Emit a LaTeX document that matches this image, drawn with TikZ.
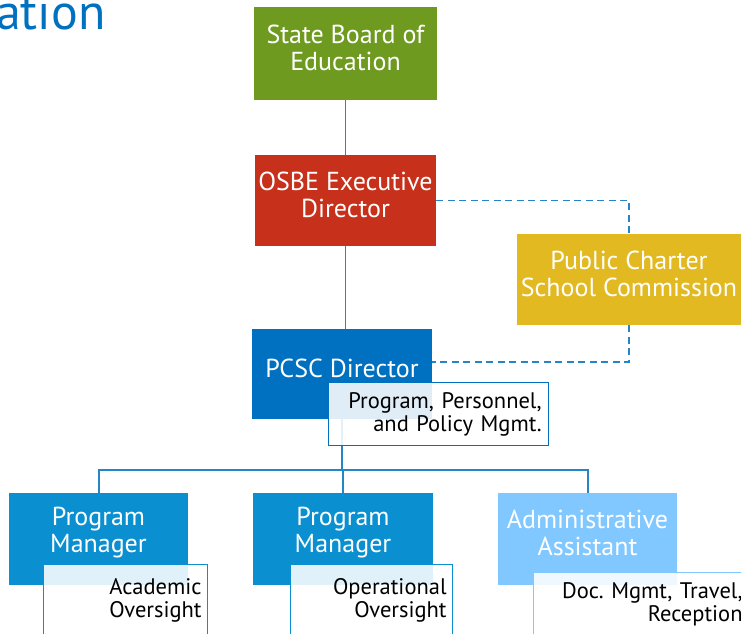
\documentclass[tikz,border=0pt]{standalone}
\usepackage{fontspec}
\setmainfont{PT Sans}
\usetikzlibrary{positioning,backgrounds}

\definecolor{sbegreen}{HTML}{6E9A1F}
\definecolor{osbered}{HTML}{C7301A}
\definecolor{commgold}{HTML}{E2B921}
\definecolor{dirblue}{HTML}{0070C0}
\definecolor{pmblue}{HTML}{0A90D0}
\definecolor{admblue}{HTML}{80C8FF}
\definecolor{lineblue}{HTML}{2585C7}

\begin{document}
\frenchspacing
\begin{tikzpicture}[x=1pt,y=-1pt,
  topbox/.style={rectangle, inner sep=0pt},
  boxlbl/.style={text=white, align=center, inner sep=0pt,
    font=\fontsize{26}{27}\selectfont},
  subbox/.style={rectangle, draw, line width=1.2pt, fill=white, fill opacity=0.88,
    text opacity=1, align=right, inner sep=0pt,
    font=\fontsize{22.5}{23}\selectfont},
  link/.style={lineblue, line width=1.7pt},
  dotlink/.style={lineblue, line width=1.7pt, dash pattern=on 7pt off 4.5pt}]
\useasboundingbox (0,0) rectangle (741,633);

% Title (cut off at the page edge)
\node[anchor=base west, inner sep=0pt, text=dirblue, font=\fontsize{50}{54}\selectfont] (title) at (-4,29) {ation};

% Upper boxes
\node[topbox, fill=sbegreen, minimum width=183pt, minimum height=93pt] (sbe) at (345.5,53.5) {};
\node[boxlbl] (sbelbl) at ([yshift=6pt]sbe.center) {State Board of\\Education};
\node[topbox, fill=osbered, minimum width=181pt, minimum height=91pt] (osbe) at (345.5,200.5) {};
\node[boxlbl] (osbelbl) at ([yshift=6pt]osbe.center) {OSBE Executive\\Director};
\node[topbox, fill=commgold, minimum width=224pt, minimum height=91pt] (comm) at (629,279.5) {};
\node[boxlbl] (commlbl) at ([yshift=6pt]comm.center) {Public Charter\\School Commission};
\node[topbox, fill=dirblue, minimum width=180pt, minimum height=90pt, anchor=north west] (pcsc) at (252,329) {};
\node[boxlbl, anchor=base] (pcsclbl) at (342,377) {PCSC Director};
\node[subbox, draw=dirblue, minimum width=220pt, minimum height=63pt, text width=206pt, anchor=north west] (pcscsub) at (328,382) {Program, Personnel,\\and Policy Mgmt.};

% Lower boxes
\node[topbox, fill=pmblue, minimum width=179pt, minimum height=92pt, anchor=north west] (pm1) at (9,493) {};
\node[boxlbl] (pm1lbl) at (98.5,533) {Program\\Manager};
\node[subbox, draw=pmblue, minimum width=164pt, minimum height=72pt, text width=152pt, anchor=north west] (pm1sub) at (43,564) {Academic\\Oversight};

\node[topbox, fill=pmblue, minimum width=180pt, minimum height=92pt, anchor=north west] (pm2) at (253,493) {};
\node[boxlbl] (pm2lbl) at (343,533) {Program\\Manager};
\node[subbox, draw=pmblue, minimum width=162pt, minimum height=72pt, text width=150pt, anchor=north west] (pm2sub) at (290,564) {Operational\\Oversight};

\node[topbox, fill=admblue, minimum width=179pt, minimum height=92pt, anchor=north west] (admin) at (498,493) {};
\node[boxlbl] (adminlbl) at (587.5,533) {Administrative\\Assistant};
\node[subbox, draw=admblue, minimum width=220pt, minimum height=64pt, text width=198pt, anchor=north west] (adminsub) at (533,572) {Doc. Mgmt, Travel,\\Reception};

% Connectors, behind the boxes
\coordinate (bus) at (0,470);
\coordinate (dashlow) at (0,362);
\begin{scope}[on background layer]
\draw[link] (sbe) -- (osbe);
\draw[link] (osbe.south) -- (osbe.south |- pcsc.north);
\draw[link] (pcsc.south) -- (pcsc.south |- bus);
\draw[link] (pm1.north) -- (pm1.north |- bus) -| (admin.north);
\draw[link] (pm2.north) -- (pm2.north |- bus);
\draw[dotlink] (osbe.east) -| (comm.north);
\draw[dotlink] (comm.south) |- (pcsc.east |- dashlow);
\end{scope}
\end{tikzpicture}
\end{document}
